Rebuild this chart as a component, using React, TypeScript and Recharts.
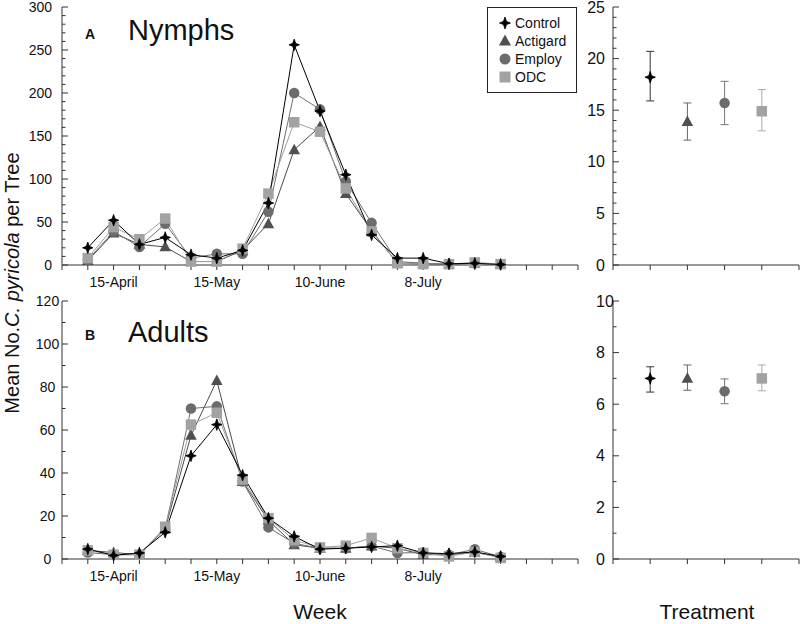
import React from 'react';
import { LineChart, Line, XAxis, YAxis, ScatterChart, Scatter, ErrorBar, Legend } from 'recharts';

// ---------- data ----------
const weeks = [1, 2, 3, 4, 5, 6, 7, 8, 9, 10, 11, 12, 13, 14, 15, 16, 17];
const weekAxisTicks = [0, 1, 2, 3, 4, 5, 6, 7, 8, 9, 10, 11, 12, 13, 14, 15, 16, 17, 18, 19, 20];
const weekLabels: Record<number, string> = { 2: '15-April', 6: '15-May', 10: '10-June', 14: '8-July' };

const seriesNames = ['Control', 'Actigard', 'Employ', 'ODC'];
const seriesShapes = ['star', 'triangle', 'circle', 'square'];
const seriesFills = ['#000000', '#505050', '#6c6c6c', '#a2a2a2'];
const seriesStrokes = ['#000000', '#4a4a4a', '#707070', '#a0a0a0'];
const errorStrokes = ['#333333', '#666666', '#777777', '#aaaaaa'];

const nymphsControl = [20, 52, 24, 32, 12, 8, 17, 72, 256, 179, 105, 35, 8, 8, 1.5, 2, 0.5];
const nymphsActigard = [5, 37, 24, 21, 4, 4, 17, 48, 134, 161, 83, 40, 2, 2, 1, 2, 1];
const nymphsEmploy = [6, 39, 21, 48, 8, 13, 13, 62, 200, 181, 97, 49, 4, 2, 1, 2, 1];
const nymphsODC = [8, 44, 30, 54, 4, 4, 19, 83, 166, 155, 89, 39, 2, 1, 1, 3, 1];

const adultsControl = [4.6, 1.7, 2.8, 12.4, 48, 62.5, 39, 19, 10.5, 4.6, 5, 5.6, 6.2, 2.8, 2.5, 3.3, 1.2];
const adultsActigard = [4, 3, 2, 14, 57.5, 83, 36, 18, 6.6, 5, 5, 6, 5, 2, 2, 3, 1];
const adultsEmploy = [3, 2, 2, 14, 70, 71, 36, 14.7, 7.3, 5, 5, 6, 2.8, 3, 2, 4.5, 1];
const adultsODC = [4, 2, 2, 15, 62.5, 68, 37, 19, 8.7, 5.4, 6.2, 9.8, 5, 2.8, 1.2, 3.3, 0.5];

const treatmentPositions = [1, 2, 3, 4];
const treatmentAxisTicks = [0, 1, 2, 3, 4, 5];
const nymphMeans = [18.2, 13.9, 15.7, 14.9];
const nymphErrLow = [2.3, 1.8, 2.1, 1.9];
const nymphErrHigh = [2.5, 1.8, 2.1, 2.1];
const adultMeans = [7.0, 7.0, 6.5, 7.0];
const adultErrLow = [0.53, 0.46, 0.48, 0.48];
const adultErrHigh = [0.45, 0.52, 0.48, 0.52];

const nymphYTicks = Array.from({ length: 31 }, (_, i) => i * 10);
const adultYTicks = Array.from({ length: 13 }, (_, i) => i * 10);
const nymphTrtTicks = Array.from({ length: 26 }, (_, i) => i);
const adultTrtTicks = Array.from({ length: 11 }, (_, i) => i);

// ---------- helpers ----------
const FONT = '"Liberation Sans", Arial, Helvetica, sans-serif';
const AXIS = '#333333';

function buildWeekData(c: number[], a: number[], e: number[], o: number[]) {
  return weeks.map((w, i) => ({ week: w, Control: c[i], Actigard: a[i], Employ: e[i], ODC: o[i] }));
}
const nymphData = buildWeekData(nymphsControl, nymphsActigard, nymphsEmploy, nymphsODC);
const adultData = buildWeekData(adultsControl, adultsActigard, adultsEmploy, adultsODC);

function buildTrt(means: number[], lo: number[], hi: number[]) {
  return seriesNames.map((_, i) => [{ x: treatmentPositions[i], y: means[i], err: [lo[i], hi[i]] }]);
}
const nymphTrt = buildTrt(nymphMeans, nymphErrLow, nymphErrHigh);
const adultTrt = buildTrt(adultMeans, adultErrLow, adultErrHigh);

function Marker({ kind, cx, cy, color, size }: { kind: string; cx: number; cy: number; color: string; size: number }) {
  if (cx == null || cy == null || isNaN(cx) || isNaN(cy)) return null;
  const s = size;
  if (kind === 'star') {
    const ry = s * 0.55;
    const rx = s * 0.5;
    const w = s * 0.14;
    const d = `M${cx},${cy - ry} L${cx + w},${cy - w} L${cx + rx},${cy} L${cx + w},${cy + w} L${cx},${cy + ry} L${cx - w},${cy + w} L${cx - rx},${cy} L${cx - w},${cy - w} Z`;
    return <path d={d} fill={color} stroke={color} strokeWidth={0.8} strokeLinejoin="miter" />;
  }
  if (kind === 'triangle') {
    const pts = `${cx},${cy - s * 0.58} ${cx + s * 0.55},${cy + s * 0.42} ${cx - s * 0.55},${cy + s * 0.42}`;
    return <polygon points={pts} fill={color} />;
  }
  if (kind === 'circle') {
    return <circle cx={cx} cy={cy} r={s / 2} fill={color} />;
  }
  return <rect x={cx - s / 2} y={cy - s / 2} width={s} height={s} fill={color} />;
}

const makeYTick = (majorStep: number, anchor: 'end' | 'middle' | 'start', labelDx: number, fontSize: number) =>
  (props: any) => {
    const { x, y, payload } = props;
    const v = payload.value;
    const major = Math.abs(v / majorStep - Math.round(v / majorStep)) < 1e-6;
    return (
      <g>
        <line x1={x} x2={x + (major ? 6 : 3.5)} y1={y} y2={y} stroke={AXIS} strokeWidth={1} />
        {major && (
          <text x={x + labelDx} y={y} dy="0.35em" textAnchor={anchor} fontSize={fontSize} fill="#111" fontFamily={FONT}>
            {v}
          </text>
        )}
      </g>
    );
  };

const LegendBox = () => (
  <svg width={90} height={86} style={{ display: 'block' }}>
    <rect x={0.5} y={0.5} width={89} height={85} fill="#fff" stroke="#222" />
    {seriesNames.map((n, i) => (
      <g key={n}>
        <Marker kind={seriesShapes[i]} cx={18} cy={16 + i * 18} color={seriesFills[i]} size={11} />
        <text x={28} y={16 + i * 18} dy="0.35em" fontSize={14} fill="#111" fontFamily={FONT}>
          {n}
        </text>
      </g>
    ))}
  </svg>
);

function WeekPanel({ data, yTicks, yMax, majorStep, anchor, labelDx, withLegend }: any) {
  return (
    <LineChart width={580} height={300} data={data} margin={{ top: 7, right: 2, left: 2, bottom: 5 }}>
      <XAxis
        dataKey="week"
        type="number"
        domain={[0, 20]}
        ticks={weekAxisTicks}
        interval={0}
        tickFormatter={(v: number) => weekLabels[v] || ''}
        tick={{ fontSize: 14, fill: '#111', fontFamily: FONT }}
        tickSize={5}
        tickMargin={7}
        height={30}
        axisLine={{ stroke: AXIS }}
        tickLine={{ stroke: AXIS }}
      />
      <XAxis xAxisId="top" orientation="top" type="number" domain={[0, 20]} height={0} tick={false} tickLine={false} axisLine={{ stroke: AXIS }} />
      <YAxis
        type="number"
        domain={[0, yMax]}
        ticks={yTicks}
        interval={0}
        width={60}
        tickSize={0}
        tickMargin={0}
        tickLine={false}
        axisLine={{ stroke: AXIS }}
        tick={makeYTick(majorStep, anchor, labelDx, 14)}
      />
      <YAxis yAxisId="right" orientation="right" type="number" domain={[0, 1]} width={0} tick={false} tickLine={false} axisLine={{ stroke: AXIS }} />
      {withLegend && (
        <Legend
          content={LegendBox}
          layout="vertical"
          align="center"
          verticalAlign="middle"
          wrapperStyle={{ left: 487, top: 7, width: 90, height: 86 }}
        />
      )}
      {[1, 2, 3, 0].map((i) => (
        <Line
          key={seriesNames[i]}
          dataKey={seriesNames[i]}
          type="linear"
          stroke={seriesStrokes[i]}
          strokeWidth={1}
          isAnimationActive={false}
          legendType="none"
          dot={(p: any) => (
            <Marker key={`${seriesNames[i]}-${p.index}`} kind={seriesShapes[i]} cx={p.cx} cy={p.cy} color={seriesFills[i]} size={10.5} />
          )}
          activeDot={false}
        />
      ))}
    </LineChart>
  );
}

function TrtPanel({ series, yTicks, yMax, majorStep, anchor, labelDx }: any) {
  return (
    <ScatterChart width={230} height={300} margin={{ top: 7, right: 1, left: 3, bottom: 5 }}>
      <XAxis
        dataKey="x"
        type="number"
        domain={[0, 5]}
        ticks={treatmentAxisTicks}
        interval={0}
        tickFormatter={() => ''}
        tickSize={5}
        height={30}
        axisLine={{ stroke: AXIS }}
        tickLine={{ stroke: AXIS }}
      />
      <XAxis xAxisId="top" orientation="top" type="number" domain={[0, 5]} height={0} tick={false} tickLine={false} axisLine={{ stroke: AXIS }} />
      <YAxis
        dataKey="y"
        type="number"
        domain={[0, yMax]}
        ticks={yTicks}
        interval={0}
        width={40}
        tickSize={0}
        tickMargin={0}
        tickLine={false}
        axisLine={{ stroke: AXIS }}
        tick={makeYTick(majorStep, anchor, labelDx, 16)}
      />
      <YAxis yAxisId="right" orientation="right" type="number" domain={[0, 1]} width={0} tick={false} tickLine={false} axisLine={{ stroke: AXIS }} />
      {series.map((d: any, i: number) => (
        <Scatter
          key={seriesNames[i]}
          name={seriesNames[i]}
          data={d}
          isAnimationActive={false}
          shape={(p: any) => <Marker kind={seriesShapes[i]} cx={p.cx} cy={p.cy} color={seriesFills[i]} size={10.5} />}
        >
          <ErrorBar dataKey="err" direction="y" width={4} stroke={errorStrokes[i]} strokeWidth={1} isAnimationActive={false} />
        </Scatter>
      ))}
    </ScatterChart>
  );
}

export default function App() {
  return (
    <div style={{ position: 'absolute', left: 0, top: 0, width: 800, height: 624, background: '#fff', fontFamily: FONT, overflow: 'hidden' }}>
      <div style={{ position: 'absolute', left: 0, top: 0 }}>
        <WeekPanel data={nymphData} yTicks={nymphYTicks} yMax={300} majorStep={50} anchor="end" labelDx={-10} withLegend />
      </div>
      <div style={{ position: 'absolute', left: 0, top: 294 }}>
        <WeekPanel data={adultData} yTicks={adultYTicks} yMax={120} majorStep={20} anchor="middle" labelDx={-14.5} withLegend={false} />
      </div>
      <div style={{ position: 'absolute', left: 570, top: 0 }}>
        <TrtPanel series={nymphTrt} yTicks={nymphTrtTicks} yMax={25} majorStep={5} anchor="end" labelDx={-8} />
      </div>
      <div style={{ position: 'absolute', left: 570, top: 294 }}>
        <TrtPanel series={adultTrt} yTicks={adultTrtTicks} yMax={10} majorStep={2} anchor="start" labelDx={-17} />
      </div>
      <svg width={800} height={624} style={{ position: 'absolute', left: 0, top: 0, pointerEvents: 'none' }}>
        <text x={85} y={39} fontSize={14} fontWeight="bold" fill="#111" fontFamily={FONT}>A</text>
        <text x={128} y={40} fontSize={29} fill="#111" fontFamily={FONT}>Nymphs</text>
        <text x={85} y={340} fontSize={14} fontWeight="bold" fill="#111" fontFamily={FONT}>B</text>
        <text x={128} y={342} fontSize={29} fill="#111" fontFamily={FONT}>Adults</text>
        <text transform="translate(19,283) rotate(-90)" textAnchor="middle" fontSize={20} fill="#111" fontFamily={FONT}>
          Mean No.<tspan fontStyle="italic">C. pyricola</tspan> per Tree
        </text>
        <text x={320} y={619} textAnchor="middle" fontSize={21} fill="#111" fontFamily={FONT}>Week</text>
        <text x={707} y={619} textAnchor="middle" fontSize={21} fill="#111" fontFamily={FONT}>Treatment</text>
      </svg>
    </div>
  );
}
